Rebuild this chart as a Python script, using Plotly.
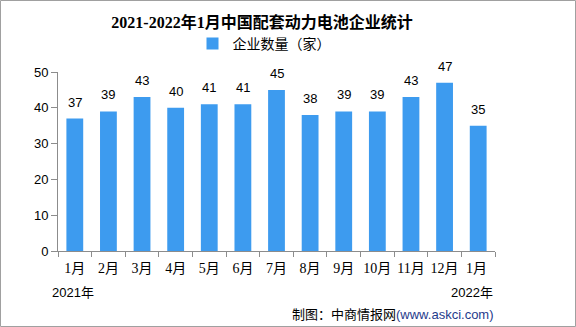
import plotly.graph_objects as go

# Monthly count of power-battery supporting enterprises
months = ["1月", "2月", "3月", "4月", "5月", "6月", "7月", "8月", "9月", "10月", "11月", "12月", "1月 "]
counts = [37, 39, 43, 40, 41, 41, 45, 38, 39, 39, 43, 47, 35]
y_ticks = [0, 10, 20, 30, 40, 50]

W, H = 576, 327
ML, MR, MT, MB = 58, 81, 72, 76
PW, PH = W - ML - MR, H - MT - MB

BAR_COLOR = "#3D9BEF"
AXIS_COLOR = "#8C8C8C"
SANS = "Liberation Sans, Noto Sans CJK SC, sans-serif"
SERIF = "Liberation Serif, Noto Sans CJK SC, serif"

fig = go.Figure()
fig.add_trace(go.Bar(
    x=months, y=counts, name="企业数量（家）",
    marker=dict(color=BAR_COLOR, line=dict(width=0)),
    showlegend=True,
))

# value labels above each bar
for m, v in zip(months, counts):
    fig.add_annotation(x=m, y=v, text=str(v), showarrow=False,
                       yanchor="bottom", yshift=7,
                       font=dict(family=SANS, size=13, color="#000"))

def px_x(p):
    return (p - ML) / PW

def px_y(p):
    return 1 - (p - MT) / PH

fig.add_annotation(xref="paper", yref="paper", x=px_x(50), y=px_y(292),
                   xanchor="left", yanchor="middle", showarrow=False,
                   text="2021年", font=dict(family=SANS, size=13, color="#000"))
fig.add_annotation(xref="paper", yref="paper", x=px_x(495), y=px_y(292),
                   xanchor="right", yanchor="middle", showarrow=False,
                   text="2022年", font=dict(family=SANS, size=13, color="#000"))
fig.add_annotation(xref="paper", yref="paper", x=px_x(496), y=px_y(314),
                   xanchor="right", yanchor="middle", showarrow=False,
                   text="制图：中商情报网<span style='color:#1F3B8C'>(www.askci.com)</span>",
                   font=dict(family=SANS, size=13, color="#000"))

# outer frame
fig.add_shape(type="rect", xref="paper", yref="paper",
              x0=px_x(0.5), x1=px_x(W - 0.5), y0=px_y(H - 0.5), y1=px_y(0.5),
              line=dict(color="#A0A0A0", width=1), layer="below")

fig.update_layout(
    width=W, height=H,
    margin=dict(l=ML, r=MR, t=MT, b=MB),
    paper_bgcolor="white", plot_bgcolor="white",
    bargap=0.5,
    title=dict(text="<b>2021-2022年1月中国配套动力电池企业统计</b>",
               x=262 / W, xanchor="center",
               y=1 - 22 / H, yanchor="middle",
               font=dict(family=SERIF, size=16, color="#000")),
    legend=dict(orientation="h", x=px_x(264), xanchor="center",
                y=px_y(44), yanchor="middle",
                font=dict(family=SANS, size=14, color="#000"),
                itemwidth=30, bgcolor="rgba(0,0,0,0)"),
    xaxis=dict(type="category", showline=True, linecolor=AXIS_COLOR, linewidth=1,
               ticks="outside", tickson="boundaries", ticklen=5, tickcolor=AXIS_COLOR,
               tickangle=0, ticklabelstandoff=4,
               tickfont=dict(family=SERIF, size=14, color="#000"),
               showgrid=False),
    yaxis=dict(range=[0, 50], tickvals=y_ticks, showline=True, linecolor=AXIS_COLOR,
               linewidth=1, ticks="outside", ticklen=6, tickcolor=AXIS_COLOR,
               tickfont=dict(family=SANS, size=13, color="#000"),
               showgrid=False, zeroline=False),
)

fig.write_html("out.html")
